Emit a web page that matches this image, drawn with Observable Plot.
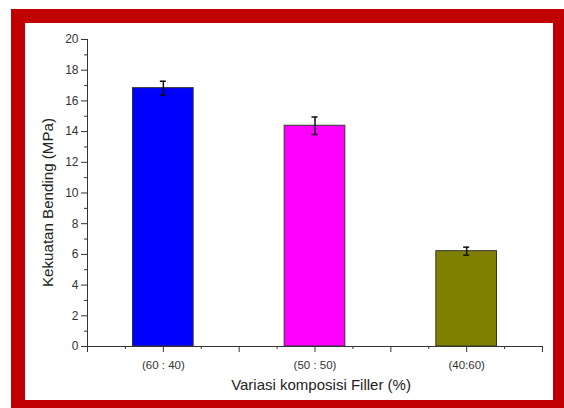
<!DOCTYPE html>
<html>
<head>
<meta charset="utf-8">
<script src="https://cdn.jsdelivr.net/npm/d3@7"></script>
<script src="https://cdn.jsdelivr.net/npm/@observablehq/plot@0.6"></script>
<style>
  html, body { margin: 0; padding: 0; background: #fff; }
  #wrap { position: relative; width: 564px; height: 408px; overflow: hidden; font-family: "Liberation Sans", Arial, sans-serif; }
  #frame { position: absolute; left: 11px; top: 9px; width: 553px; height: 399px; box-sizing: border-box;
           border-style: solid; border-color: #C00000; border-width: 14px 11px 8px 14px; }
  #chart { position: absolute; left: 0; top: 0; }
</style>
</head>
<body>
<div id="wrap"><div id="frame"></div><div id="chart"></div></div>
<script>
const categories = ["(60 : 40)", "(50 : 50)", "(40:60)"];
const values = [16.83, 14.38, 6.21];
const errors = [0.45, 0.57, 0.26];
const colors = ["#0000FF", "#FF00FF", "#808000"];
const yTicks = [0, 2, 4, 6, 8, 10, 12, 14, 16, 18, 20];
const xTitle = "Variasi komposisi Filler (%)";
const yTitle = "Kekuatan Bending (MPa)";

const data = categories.map((c, i) => ({cat: c, pos: i * 2 + 1, value: values[i], err: errors[i], color: colors[i]}));
const labelAt = new Map(data.map(d => [d.pos, d.cat]));

const plot = Plot.plot({
  width: 564,
  height: 408,
  marginLeft: 87,
  marginRight: 22,
  marginTop: 39,
  marginBottom: 62,
  style: {fontFamily: "Liberation Sans, Arial, sans-serif", background: "transparent", color: "#222"},
  x: {domain: [0, 6]},
  y: {domain: [0, 20]},
  marks: [
    Plot.rectY(data, {x1: d => d.pos - 0.4, x2: d => d.pos + 0.4, y1: 0, y2: "value", fill: "color", stroke: "#333", strokeWidth: 1}),
    Plot.ruleX(data, {x: "pos", y1: d => d.value - d.err, y2: d => d.value + d.err, stroke: "#111", strokeWidth: 1.5}),
    Plot.ruleY(data, {y: d => d.value + d.err, x1: d => d.pos - 0.04, x2: d => d.pos + 0.04, stroke: "#111", strokeWidth: 1.5}),
    Plot.ruleY(data, {y: d => d.value - d.err, x1: d => d.pos - 0.04, x2: d => d.pos + 0.04, stroke: "#111", strokeWidth: 1.5}),
    // y axis
    Plot.axisY({ticks: yTicks, tickSize: 6, tickPadding: 3, fontSize: 12, label: null, stroke: "#333", fill: "#333"}),
    Plot.axisY({ticks: yTicks.slice(0, -1).map(t => t + 1), tickSize: 3, text: null, label: null, stroke: "#333"}),
    Plot.ruleX([0], {stroke: "#333"}),
    // x axis
    Plot.axisX({ticks: [0, 1, 2, 3, 4, 5, 6], tickSize: 6, tickPadding: 8, fontSize: 11.5, tickFormat: t => labelAt.get(t) ?? "", label: null, stroke: "#333", fill: "#333"}),
    Plot.axisX({ticks: [0.5, 1.5, 2.5, 3.5, 4.5, 5.5], tickSize: 3, text: null, label: null, stroke: "#333"}),
    Plot.ruleY([0], {stroke: "#333"}),
    Plot.text([xTitle], {frameAnchor: "bottom", dx: 6, dy: 43, fontSize: 15, fill: "#222", text: d => d}),
    Plot.text([yTitle], {frameAnchor: "left", textAnchor: "start", dx: -39, dy: 94, rotate: -90, fontSize: 14, fill: "#222", text: d => d, className: "ytitle"})
  ]
});
const yt = plot.querySelector(".ytitle text");
if (yt) { yt.setAttribute("textLength", "169"); yt.setAttribute("lengthAdjust", "spacingAndGlyphs"); }
document.getElementById("chart").appendChild(plot);
</script>
</body>
</html>
